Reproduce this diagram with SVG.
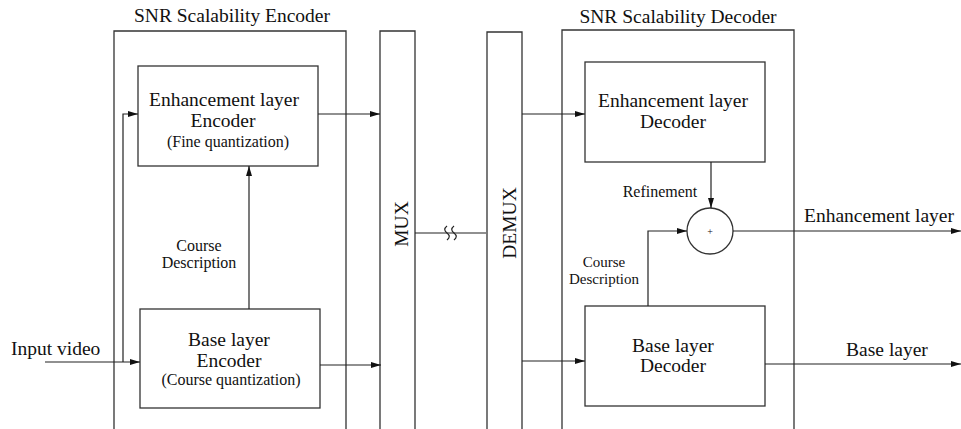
<svg xmlns="http://www.w3.org/2000/svg" width="961" height="429" viewBox="0 0 961 429">
  <style>
    .box { fill: none; stroke: #333; stroke-width: 1.3; }
    .ln { fill: none; stroke: #222; stroke-width: 1.2; }
    .t { font-family: "Liberation Serif", "Times New Roman", serif; fill: #111; text-anchor: middle; }
    .big { font-size: 19.5px; }
    .small { font-size: 16px; }
  </style>
  <defs>
    <marker id="arr" viewBox="0 0 10 6" refX="10" refY="3" markerWidth="10" markerHeight="6" markerUnits="userSpaceOnUse" orient="auto">
      <path d="M0,0 L10,3 L0,6 Z" fill="#111"/>
    </marker>
  </defs>

  <rect width="961" height="429" fill="#fff"/>

  <!-- Encoder frame -->
  <g id="encoder">
    <path class="box" d="M114,432 V31 H346 V432"/>
    <text class="t big" x="232" y="22">SNR Scalability Encoder</text>
  </g>

  <g id="enh-encoder">
    <rect class="box" x="138" y="66" width="180" height="100"/>
    <text class="t big" x="224" y="106">Enhancement layer</text>
    <text class="t big" x="223" y="127">Encoder</text>
    <text class="t small" x="228" y="147">(Fine quantization)</text>
  </g>

  <g id="base-encoder">
    <rect class="box" x="140" y="309" width="180" height="99"/>
    <text class="t big" x="229" y="346">Base layer</text>
    <text class="t big" x="229" y="367">Encoder</text>
    <text class="t small" x="231" y="385">(Course quantization)</text>
  </g>

  <g id="mux">
    <path class="box" d="M380,432 V31 H415 V432"/>
    <text class="t big" transform="translate(408,224) rotate(-90)">MUX</text>
  </g>

  <g id="demux">
    <path class="box" d="M487,432 V32 H522 V432"/>
    <text class="t big" transform="translate(516,223) rotate(-90)">DEMUX</text>
  </g>

  <!-- Decoder frame -->
  <g id="decoder">
    <path class="box" d="M562,432 V30 H794 V432"/>
    <text class="t big" x="678" y="23">SNR Scalability Decoder</text>
  </g>

  <g id="enh-decoder">
    <rect class="box" x="585" y="62" width="180" height="100"/>
    <text class="t big" x="673" y="107">Enhancement layer</text>
    <text class="t big" x="673" y="128">Decoder</text>
  </g>

  <g id="base-decoder">
    <rect class="box" x="585" y="306" width="180" height="100"/>
    <text class="t big" x="673" y="352">Base layer</text>
    <text class="t big" x="673" y="372">Decoder</text>
  </g>

  <g id="adder">
    <circle class="box" cx="710" cy="231" r="23"/>
    <text class="t" style="font-size:10px" x="710" y="235">+</text>
  </g>

  <!-- Connectors -->
  <g id="connectors">
    <path class="ln" d="M45,362 H140" marker-end="url(#arr)"/>
    <path class="ln" d="M123,362 V114 H138" marker-end="url(#arr)"/>
    <path class="ln" d="M249,309 V166" marker-end="url(#arr)"/>
    <path class="ln" d="M318,114 H380" marker-end="url(#arr)"/>
    <path class="ln" d="M320,365 H381" marker-end="url(#arr)"/>

    <!-- link between MUX and DEMUX, with break marks -->
    <path class="ln" d="M415,233 H486"/>
    <path class="ln" d="M447,226 c-3,2.5 -3,4.5 0,7 c3,2.5 3,4.5 0,7"/>
    <path class="ln" d="M454,226 c-3,2.5 -3,4.5 0,7 c3,2.5 3,4.5 0,7"/>

    <path class="ln" d="M522,114 H585" marker-end="url(#arr)"/>
    <path class="ln" d="M522,361 H585" marker-end="url(#arr)"/>
    <path class="ln" d="M711,162 V208" marker-end="url(#arr)"/>
    <path class="ln" d="M648,306 V231 H687" marker-end="url(#arr)"/>
    <path class="ln" d="M733,231 H961" marker-end="url(#arr)"/>
    <path class="ln" d="M765,364 H961" marker-end="url(#arr)"/>
  </g>

  <!-- Connector labels -->
  <g id="labels">
    <text class="t big" x="11" y="355" style="text-anchor:start">Input video</text>
    <text class="t small" x="199" y="251">Course</text>
    <text class="t small" x="199" y="268">Description</text>
    <text class="t small" x="660" y="197">Refinement</text>
    <text class="t" style="font-size:15px" x="604" y="267">Course</text>
    <text class="t" style="font-size:15px" x="604" y="284">Description</text>
    <text class="t big" x="879" y="222">Enhancement layer</text>
    <text class="t big" x="887" y="356">Base layer</text>
  </g>
</svg>
